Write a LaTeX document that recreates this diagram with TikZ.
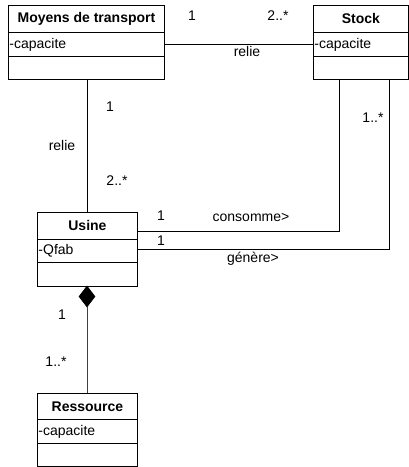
\documentclass[tikz,border=0pt]{standalone}
\usepackage{fontspec}
\setmainfont{Liberation Sans}
\usetikzlibrary{arrows.meta,shapes.geometric}
\begin{document}
\begin{tikzpicture}[x=1pt,y=-1pt,
  comp/.style={draw,line width=0.9pt,inner sep=0pt,anchor=north west,font=\fontsize{14}{16}\selectfont},
  head/.style={comp,font=\fontsize{14}{16}\selectfont\bfseries,align=center},
  attr/.style={comp,align=left,inner xsep=1pt},
  lbl/.style={font=\fontsize{14}{16}\selectfont,inner sep=0pt},
  link/.style={line width=0.7pt}]
\useasboundingbox (0,0) rectangle (409,467);
% Moyens de transport
\node[head,minimum width=156,minimum height=27] (mh) at (8,5) {Moyens de transport};
\node[attr,text width=154,minimum height=24] (ma) at (8,32) {-capacite};
\node[comp,minimum width=156,minimum height=23] (mm) at (8,56) {};
% Stock
\node[head,minimum width=95,minimum height=27] (sh) at (313,5) {Stock};
\node[attr,text width=93,minimum height=24] (sa) at (313,32) {-capacite};
\node[comp,minimum width=95,minimum height=23] (sm) at (313,56) {};
% Usine
\node[head,minimum width=100,minimum height=27] (uh) at (37,212) {Usine};
\node[attr,text width=98,minimum height=23] (ua) at (37,239) {-Qfab};
\node[comp,minimum width=100,minimum height=24] (um) at (37,262) {};
% Ressource
\node[head,minimum width=100,minimum height=26] (rh) at (37,393) {Ressource};
\node[attr,text width=98,minimum height=24] (ra) at (37,419) {-capacite};
\node[comp,minimum width=100,minimum height=23] (rm) at (37,443) {};
% coordinates
\coordinate (c1) at (339,231);
\coordinate (c2) at (389,249);
% Moyens -- Stock
\draw[link] (ma.east) -- (sa.west);
\node[lbl] (l1) at (192,16) {1};
\node[lbl] (l2) at (278,16) {2..*};
\node[lbl] (l3) at (247,51) {relie};
% Moyens -- Usine
\draw[link] (mm.south -| 87,0) -- (uh.north -| 87,0);
\node[lbl] (l4) at (110,107) {1};
\node[lbl] (l5) at (62,145) {relie};
\node[lbl] (l6) at (117,181) {2..*};
% consomme
\draw[link] (c1 |- sm.south) -- (c1) -- (c1 -| uh.east);
\node[lbl] (l7) at (161,216) {1};
\node[lbl] (l8) at (251,217) {consomme>};
% genere
\draw[link] (c2 |- sm.south) -- (c2) -- (c2 -| ua.east);
\node[lbl] (l9) at (161,241) {1};
\node[lbl] (l10) at (253,259) {génère>};
\node[lbl] (l11) at (373,118) {1..*};
% composition
\node[draw,fill=black,diamond,minimum width=16,minimum height=21,inner sep=0pt,line width=0.7pt] (dm) at (87,296.5) {};
\draw[link,draw=black!75] (dm.south) -- (rh.north -| dm.south);
\node[lbl] (l12) at (62,315) {1};
\node[lbl] (l13) at (56,362) {1..*};
\end{tikzpicture}
\end{document}
